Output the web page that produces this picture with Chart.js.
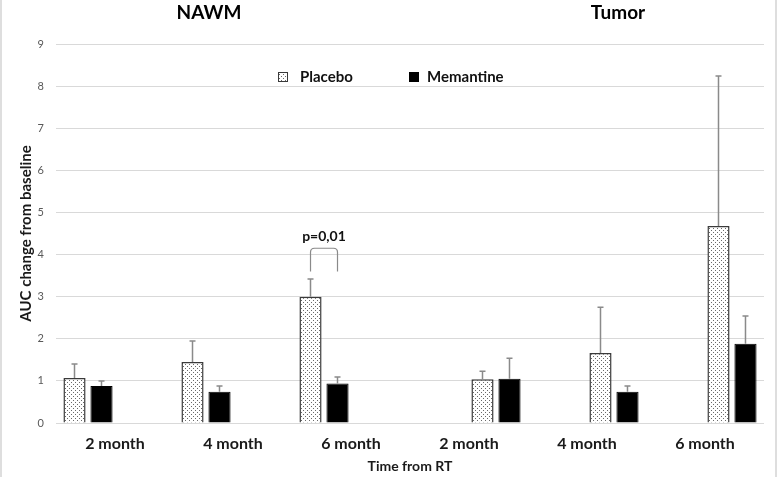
<!DOCTYPE html>
<html>
<head>
<meta charset="utf-8">
<script src="https://cdn.jsdelivr.net/npm/chart.js@4.4.1/dist/chart.umd.min.js"></script>
<style>
    body { margin: 0; background: #fff; }
    #wrap { width: 778px; height: 477px; position: relative; }
</style>
</head>
<body>
<div id="wrap"><canvas id="chart" width="778" height="477"></canvas></div>
<script>
// Categories (NAWM first three, Tumor last three)
const categories = ['2 month', '4 month', '6 month', '2 month', '4 month', '6 month'];
const groupTitles = ['NAWM', 'Tumor'];

// Mean AUC change from baseline
const nawmPlacebo = [1.07, 1.45, 3.0];
const nawmMemantine = [0.88, 0.74, 0.94];
const tumorPlacebo = [1.04, 1.66, 4.68];
const tumorMemantine = [1.05, 0.74, 1.88];

// Upper error (added on top of the bar)
const nawmPlaceboErr = [0.33, 0.50, 0.42];
const nawmMemantineErr = [0.12, 0.14, 0.15];
const tumorPlaceboErr = [0.19, 1.09, 3.56];
const tumorMemantineErr = [0.49, 0.14, 0.66];

const yTicks = [0, 1, 2, 3, 4, 5, 6, 7, 8, 9];

// p-value bracket between the 6 month NAWM bars
const pLabel = 'p=0,01';
const pBracketTop = 4.15;
const pBracketLeg = 3.6;

const FONT = 'Lato, "Open Sans", sans-serif';
const empty = [null, null, null];

// Dotted fill for the placebo bars
function makeDots() {
    const c = document.createElement('canvas');
    c.width = 4;
    c.height = 4;
    const g = c.getContext('2d');
    g.fillStyle = '#ffffff';
    g.fillRect(0, 0, 4, 4);
    g.fillStyle = '#6a6a6a';
    g.fillRect(1, 0, 1, 1);
    g.fillRect(3, 2, 1, 1);
    return g.createPattern(c, 'repeat');
}

const ctx = document.getElementById('chart').getContext('2d');
const dots = makeDots();

const placeboStyle = { backgroundColor: dots, borderColor: '#3a3a3a', borderWidth: 1.5 };
const memantineStyle = { backgroundColor: '#000000', borderColor: '#000000', borderWidth: 1 };

const datasets = [
    { label: 'Placebo', data: [...nawmPlacebo, ...empty], err: [...nawmPlaceboErr, ...empty], ...placeboStyle },
    { label: 'Memantine', data: [...nawmMemantine, ...empty], err: [...nawmMemantineErr, ...empty], ...memantineStyle },
    { label: 'Placebo', data: [...empty, ...tumorPlacebo], err: [...empty, ...tumorPlaceboErr], ...placeboStyle },
    { label: 'Memantine', data: [...empty, ...tumorMemantine], err: [...empty, ...tumorMemantineErr], ...memantineStyle }
];

// Error bars (upper only), drawn from the bar top
const errorBars = {
    id: 'errorBars',
    afterDatasetsDraw(chart) {
        const c = chart.ctx;
        const y = chart.scales.y;
        c.save();
        c.strokeStyle = '#8a8a8a';
        c.lineWidth = 1.5;
        chart.data.datasets.forEach((ds, i) => {
            const meta = chart.getDatasetMeta(i);
            meta.data.forEach((bar, j) => {
                if (ds.data[j] == null || ds.err[j] == null) return;
                const top = y.getPixelForValue(ds.data[j] + ds.err[j]);
                c.beginPath();
                c.moveTo(bar.x, bar.y);
                c.lineTo(bar.x, top);
                c.moveTo(bar.x - 3, top);
                c.lineTo(bar.x + 3, top);
                c.stroke();
            });
        });
        c.restore();
    }
};

// Group titles, legend, p-value bracket and frame
const extras = {
    id: 'extras',
    afterDraw(chart) {
        const c = chart.ctx;
        const area = chart.chartArea;
        const y = chart.scales.y;
        c.save();

        // group titles
        c.fillStyle = '#000000';
        c.font = 'bold 19px ' + FONT;
        c.textAlign = 'center';
        c.textBaseline = 'middle';
        c.fillText(groupTitles[0], area.left + 153, 13);
        c.fillText(groupTitles[1], area.left + 562, 13);

        // legend
        const items = [
            { ds: chart.data.datasets[0], mx: 283, tx: 300 },
            { ds: chart.data.datasets[1], mx: 414, tx: 427 }
        ];
        c.font = 'bold 15px ' + FONT;
        c.textAlign = 'left';
        items.forEach(it => {
            const ly = 77;
            c.fillStyle = it.ds.backgroundColor;
            c.fillRect(it.mx - 4.5, ly - 4.5, 9, 9);
            c.strokeStyle = it.ds.borderColor;
            c.lineWidth = 1;
            c.strokeRect(it.mx - 4.5, ly - 4.5, 9, 9);
            c.fillStyle = '#111111';
            c.fillText(it.ds.label, it.tx, ly);
        });

        // p-value bracket
        const x1 = chart.getDatasetMeta(0).data[2].x;
        const x2 = chart.getDatasetMeta(1).data[2].x;
        const yt = y.getPixelForValue(pBracketTop);
        const yl = y.getPixelForValue(pBracketLeg);
        const r = 4;
        c.strokeStyle = '#8a8a8a';
        c.lineWidth = 1.2;
        c.beginPath();
        c.moveTo(x1, yl);
        c.lineTo(x1, yt + r);
        c.quadraticCurveTo(x1, yt, x1 + r, yt);
        c.lineTo(x2 - r, yt);
        c.quadraticCurveTo(x2, yt, x2, yt + r);
        c.lineTo(x2, yl);
        c.stroke();
        c.fillStyle = '#111111';
        c.textAlign = 'center';
        c.font = 'bold 14px ' + FONT;
        c.fillText(pLabel, (x1 + x2) / 2, yt - 12);

        // light frame at the sides
        c.strokeStyle = '#d4d4d4';
        c.lineWidth = 1.5;
        c.beginPath();
        c.moveTo(1, 0);
        c.lineTo(1, chart.height);
        c.moveTo(776, 0);
        c.lineTo(776, chart.height);
        c.stroke();

        c.restore();
    }
};

new Chart(ctx, {
    type: 'bar',
    data: {
        labels: categories,
        datasets: datasets
    },
    options: {
        responsive: false,
        animation: false,
        devicePixelRatio: 1,
        layout: {
            padding: { top: 44, right: 14, left: 0, bottom: 0 }
        },
        datasets: {
            bar: {
                categoryPercentage: 0.915,
                barPercentage: 0.82
            }
        },
        plugins: {
            legend: { display: false },
            tooltip: { enabled: false }
        },
        scales: {
            x: {
                grid: { display: false, drawTicks: false },
                border: { display: false },
                ticks: {
                    padding: 11,
                    color: '#1a1a1a',
                    font: { family: FONT, size: 16, weight: 'bold' }
                },
                title: {
                    display: true,
                    text: 'Time from RT',
                    color: '#1a1a1a',
                    padding: { top: 2, bottom: 2 },
                    font: { family: FONT, size: 14, weight: 'bold' }
                },
                afterFit: s => { s.height = 54; }
            },
            y: {
                min: 0,
                max: 9,
                afterBuildTicks: s => { s.ticks = yTicks.map(v => ({ value: v })); },
                grid: { color: '#d9d9d9', lineWidth: 1, drawTicks: false },
                border: { display: false },
                ticks: {
                    padding: 12,
                    color: '#595959',
                    font: { family: FONT, size: 11 }
                },
                title: {
                    display: true,
                    text: 'AUC change from baseline',
                    color: '#1a1a1a',
                    padding: { top: 17, bottom: 0 },
                    font: { family: FONT, size: 15, weight: 'bold' }
                },
                afterFit: s => { s.width = 56; }
            }
        }
    },
    plugins: [errorBars, extras]
});
</script>
</body>
</html>
